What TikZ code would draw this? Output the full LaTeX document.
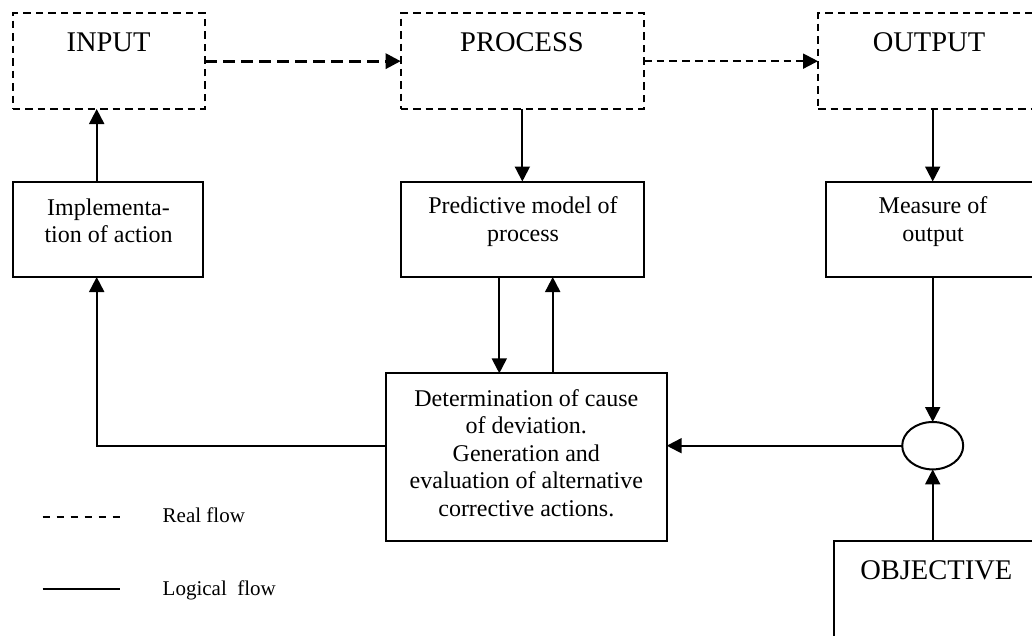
\documentclass[tikz,border=0pt]{standalone}
\usepackage{fontspec}
\setmainfont{Liberation Serif}
\usetikzlibrary{arrows.meta,shapes.geometric}
\newcommand\mylines[1]{\begin{tabular}[t]{@{}c@{}}#1\end{tabular}}
\begin{document}
\begin{tikzpicture}[x=1pt,y=-1pt,
  line width=2pt,
  realbox/.style={draw, dash pattern=on 7.5pt off 5pt, rectangle, inner sep=0pt, outer sep=0pt},
  logbox/.style={draw, rectangle, inner sep=0pt, outer sep=0pt},
  tip/.style={-{Triangle[length=15pt,width=15pt]}},
  realflow/.style={dash pattern=on 7.7pt off 5pt},
  realflowbold/.style={line width=3pt, dash pattern=on 12pt off 6pt},
  title/.style={font=\fontsize{28.5}{32}\selectfont, anchor=base, inner sep=0pt},
  body/.style={font=\fontsize{24}{27.5}\selectfont, anchor=base, inner sep=0pt},
  legend/.style={font=\fontsize{21}{25}\selectfont, anchor=base west, inner sep=0pt}]
\useasboundingbox (0,0) rectangle (1032,635);

% boxes
\node[realbox, minimum width=192.3pt, minimum height=95.7pt] (in) at (108.85,61.15) {};
\node[realbox, minimum width=243.3pt, minimum height=95.7pt] (proc) at (522.35,61.15) {};
\node[realbox, minimum width=222pt, minimum height=95.7pt] (out) at (929,61.15) {};
\node[logbox, minimum width=190.3pt, minimum height=95.5pt] (impl) at (107.85,229.25) {};
\node[logbox, minimum width=243.3pt, minimum height=95.5pt] (pred) at (522.35,229.25) {};
\node[logbox, minimum width=214pt, minimum height=95.5pt] (meas) at (933,229.25) {};
\node[logbox, minimum width=281pt, minimum height=167.7pt] (det) at (526.2,457.15) {};
\node[draw, ellipse, minimum width=61pt, minimum height=47.4pt, inner sep=0pt, outer sep=0pt] (ell) at (932.7,445.7) {};
\node[logbox, minimum width=206pt, minimum height=110pt] (obj) at (937,595.7) {};

% texts
\node[title] (tin) at (108.5,51.7) {INPUT};
\node[title] (tproc) at (522,51.7) {PROCESS};
\node[title] (tout) at (929,51.7) {OUTPUT};
\node[body] (timpl) at (108.5,215) {\mylines{Implementa-\\tion of action}};
\node[body] (tpred) at (523,213.5) {\mylines{Predictive model of\\process}};
\node[body] (tmeas) at (933,213.5) {\mylines{Measure of\\output}};
\node[body] (tdet) at (526.3,406) {\mylines{Determination of cause\\of deviation.\\Generation and\\evaluation of alternative\\corrective actions.}};
\node[title] (tobj) at (936.3,579.3) {OBJECTIVE};

% connectors
\coordinate (fb) at (96.7,445.7);
\coordinate (pd) at (499.3,0);
\coordinate (pu) at (552.7,0);
\draw[tip, realflowbold] (in.east) -- (proc.west);
\draw[tip, realflow] (proc.east) -- (out.west);
\draw[tip] (proc.south) -- (pred.north);
\draw[tip] (ell |- out.south) -- (ell |- meas.north);
\draw[tip] (fb |- impl.north) -- (fb |- in.south);
\draw[tip] (det.west |- fb) -- (fb) -- (fb |- impl.south);
\draw[tip] (pd |- pred.south) -- (pd |- det.north);
\draw[tip] (pu |- det.north) -- (pu |- pred.south);
\draw[tip] (ell |- meas.south) -- (ell.north);
\draw[tip] (ell.west) -- (ell.west -| det.east);
\draw[tip] (ell |- obj.north) -- (ell.south);

% legend
\coordinate (l1a) at (42.7,517.3);
\coordinate (l1b) at (120,517.3);
\draw[dash pattern=on 7.5pt off 6.5pt] (l1a) -- (l1b);
\coordinate (l2a) at (42.7,589.3);
\coordinate (l2b) at (120,589.3);
\draw (l2a) -- (l2b);
\node[legend] (lreal) at (161.7,522.7) {Real flow};
\node[legend] (llog) at (161.7,595) {Logical\ \ flow};
\end{tikzpicture}
\end{document}
